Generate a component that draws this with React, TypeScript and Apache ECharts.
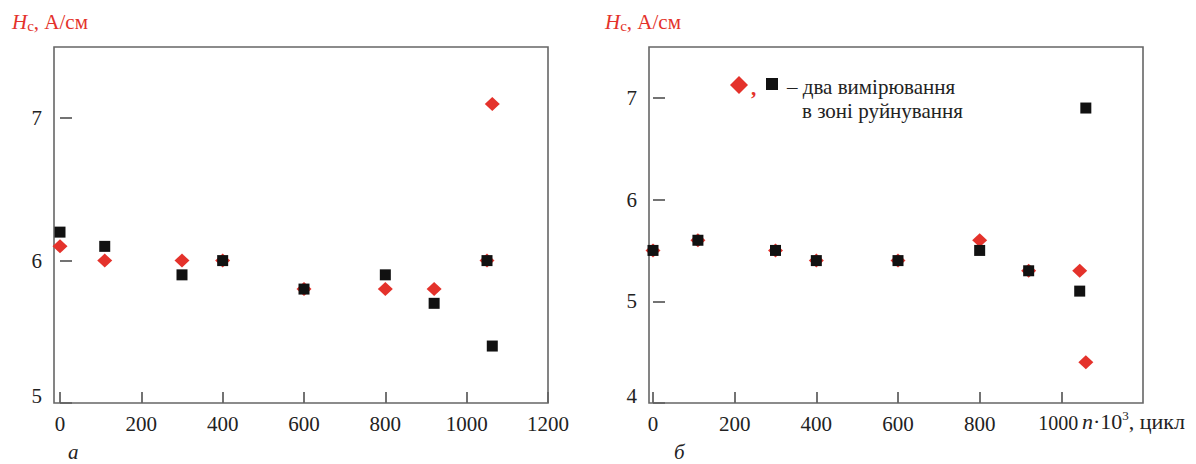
import { useEffect, useRef } from 'react';
import * as echarts from 'echarts';

const FONT = 'Liberation Serif, DejaVu Serif, serif';
const RED = '#e4322b';
const BLACK = '#111111';
const TEXT = '#222222';

// Panel a
const xLeft = [0, 110, 300, 400, 600, 800, 920, 1050, 1063];
const leftDiamond = [6.1, 6.0, 6.0, 6.0, 5.8, 5.8, 5.8, 6.0, 7.1];
const leftSquare = [6.2, 6.1, 5.9, 6.0, 5.8, 5.9, 5.7, 6.0, 5.4];

// Panel б
const xRight = [0, 110, 300, 400, 600, 800, 920, 1045, 1060];
const rightDiamond = [5.5, 5.6, 5.5, 5.4, 5.4, 5.6, 5.3, 5.3, 4.4];
const rightSquare = [5.5, 5.6, 5.5, 5.4, 5.4, 5.5, 5.3, 5.1, 6.9];

const yTitleMain = 'H';
const yTitleSub = 'c';
const yTitleUnit = ', А/см';
const legendLine1 = '– два вимірювання';
const legendLine2 = 'в зоні руйнування';
const panelA = 'а';
const panelB = 'б';

const pairs = (xs: number[], ys: number[]) => xs.map((x, i) => [x, ys[i]]);

const yAxis = (gridIndex: number, min: number, max: number, offset: number) => ({
  type: 'value',
  gridIndex,
  min,
  max,
  interval: 1,
  offset,
  axisLine: { show: false },
  axisTick: { inside: true, length: 12, lineStyle: { color: '#444', width: 1.5 } },
  splitLine: { show: false },
  axisLabel: {
    showMaxLabel: false,
    margin: 12,
    color: TEXT,
    fontFamily: FONT,
    fontSize: 21,
    formatter: (v: number) => (v === min ? `{low|${v}}` : `${v}`),
    rich: { low: { padding: [0, 0, 14, 0], fontFamily: FONT, fontSize: 21, color: TEXT } },
  },
});

const xAxis = (gridIndex: number, showMax: boolean, narrowLast: boolean) => ({
  type: 'value',
  gridIndex,
  min: 0,
  max: 1200,
  interval: 200,
  axisLine: { show: false },
  axisTick: { inside: true, length: 11, lineStyle: { color: '#444', width: 1.5 } },
  splitLine: { show: false },
  axisLabel: {
    showMaxLabel: showMax,
    margin: 10,
    color: TEXT,
    fontFamily: FONT,
    fontSize: 21,
    formatter: (v: number) => (narrowLast && v === 1000 ? `{c|${v}}` : String(v)),
    rich: { c: { fontFamily: FONT, fontSize: 20, color: TEXT, padding: [0, 6, 0, 0] } },
  },
});

const titleText = (dx: number) => ({
  type: 'text',
  x: 12 + dx,
  y: 22,
  style: {
    text: `{h|${yTitleMain}}{s|${yTitleSub}}{u|${yTitleUnit}}`,
    fill: RED,
    fontFamily: FONT,
    fontSize: 21,
    verticalAlign: 'middle',
    rich: {
      h: { fill: RED, fontFamily: FONT, fontSize: 21, fontStyle: 'italic' },
      s: { fill: RED, fontFamily: FONT, fontSize: 15, padding: [7, 0, 0, 0] },
      u: { fill: RED, fontFamily: FONT, fontSize: 21 },
    },
  },
});

const txt = (x: number, y: number, text: string, size = 21, extra: any = {}) => ({
  type: 'text',
  x,
  y,
  style: { text, fill: TEXT, fontFamily: FONT, fontSize: size, verticalAlign: 'middle', ...extra },
});

export default function App() {
  const ref = useRef<HTMLDivElement>(null);
  useEffect(() => {
    const chart = echarts.init(ref.current!, null, { renderer: 'svg' });
    chart.setOption({
      animation: false,
      backgroundColor: '#ffffff',
      grid: [
        { left: 60, top: 47, width: 488, height: 356 },
        { left: 653, top: 47, width: 490, height: 356 },
      ],
      xAxis: [xAxis(0, true, false), xAxis(1, false, true)],
      yAxis: [yAxis(0, 5, 7.5, 6), yAxis(1, 4, 7.5, 4)],
      series: [
        { type: 'scatter', xAxisIndex: 0, yAxisIndex: 0, symbol: 'diamond', symbolSize: [15, 14], itemStyle: { color: RED, opacity: 1 }, data: pairs(xLeft, leftDiamond), z: 2 },
        { type: 'scatter', xAxisIndex: 0, yAxisIndex: 0, symbol: 'rect', symbolSize: 11, itemStyle: { color: BLACK, opacity: 1 }, data: pairs(xLeft, leftSquare), z: 3 },
        { type: 'scatter', xAxisIndex: 1, yAxisIndex: 1, symbol: 'diamond', symbolSize: [15, 14], itemStyle: { color: RED, opacity: 1 }, data: pairs(xRight, rightDiamond), z: 2 },
        { type: 'scatter', xAxisIndex: 1, yAxisIndex: 1, symbol: 'rect', symbolSize: 11, itemStyle: { color: BLACK, opacity: 1 }, data: pairs(xRight, rightSquare), z: 3 },
      ],
      graphic: [
        { type: 'rect', shape: { x: 54, y: 47, width: 494, height: 356 }, style: { fill: 'none', stroke: '#666', lineWidth: 1.6 }, z: 1 },
        { type: 'rect', shape: { x: 649, y: 47, width: 494, height: 356 }, style: { fill: 'none', stroke: '#666', lineWidth: 1.6 }, z: 1 },
        titleText(0),
        titleText(593),
        txt(68, 452, panelA, 21, { fontStyle: 'italic' }),
        txt(674, 452, panelB, 21, { fontStyle: 'italic' }),
        // x-axis name on panel б
        {
          type: 'text',
          x: 1082,
          y: 421,
          style: {
            text: '{i|n}{r|·10}{s|3}{r|, цикл}',
            fill: TEXT,
            fontFamily: FONT,
            fontSize: 22,
            verticalAlign: 'middle',
            rich: {
              i: { fill: TEXT, fontFamily: FONT, fontSize: 22, fontStyle: 'italic' },
              r: { fill: TEXT, fontFamily: FONT, fontSize: 22 },
              s: { fill: TEXT, fontFamily: FONT, fontSize: 13, padding: [0, 0, 12, 0] },
            },
          },
        },
        // legend note
        { type: 'polygon', shape: { points: [[739, 76], [748, 85], [739, 94], [730, 85]] }, style: { fill: RED } },
        { type: 'text', x: 751, y: 88, style: { text: ',', fill: RED, fontFamily: FONT, fontSize: 21, fontWeight: 'bold', verticalAlign: 'middle' } },
        { type: 'rect', shape: { x: 766, y: 78, width: 12, height: 12 }, style: { fill: BLACK } },
        txt(787, 87, legendLine1, 21),
        txt(802, 110.5, legendLine2, 21),
      ],
    });
    return () => chart.dispose();
  }, []);
  return (
    <div
      ref={ref}
      style={{ position: 'fixed', left: 0, top: 0, width: 1196, height: 464, background: '#fff' }}
    />
  );
}
